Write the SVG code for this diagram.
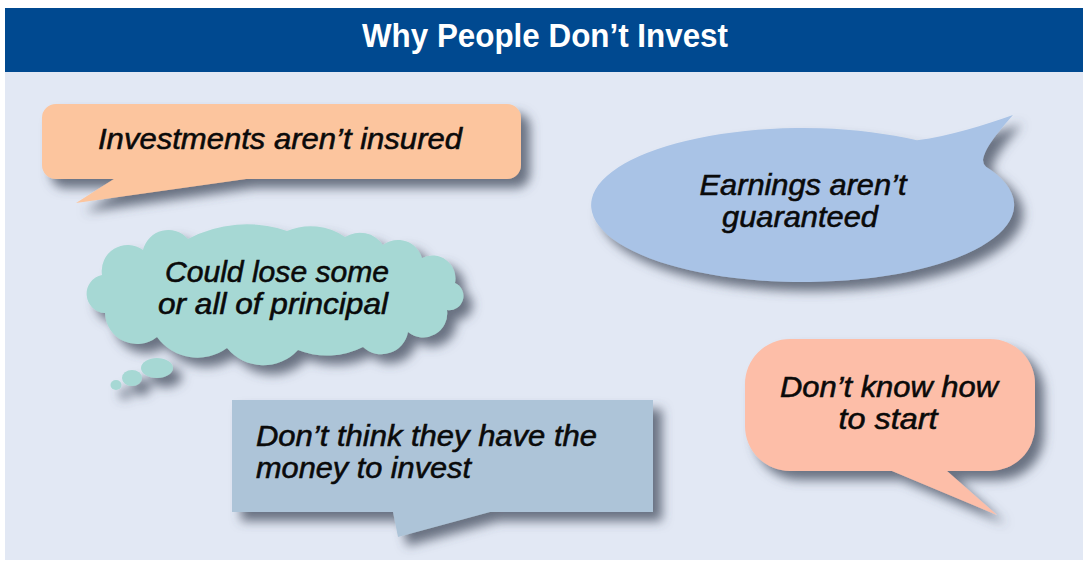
<svg xmlns="http://www.w3.org/2000/svg" width="1083" height="561" viewBox="0 0 1083 561">
<style>
.t{font-family:"Liberation Sans",Arial,sans-serif;font-style:italic;font-size:29px;fill:#0a0a0a;stroke:#0a0a0a;stroke-width:0.55px;text-anchor:middle}
.l{text-anchor:start}
.s{filter:url(#shadow)}
</style>
<defs>
<filter id="shadow" x="-20%" y="-20%" width="150%" height="160%">
<feDropShadow dx="9" dy="9" stdDeviation="5.500" flood-color="#3f4a5c" flood-opacity="0.75"/>
</filter>
</defs>
<rect width="1083" height="561" fill="#ffffff"/>
<rect x="5" y="72" width="1078" height="488" fill="#e2e8f4"/>
<g id="header">
<rect x="5" y="8" width="1078" height="64" fill="#004990"/>
<text x="545" y="47" font-family="'Liberation Sans',Arial,sans-serif" font-weight="700" font-size="33" fill="#ffffff" text-anchor="middle" textLength="366" lengthAdjust="spacingAndGlyphs">Why People Don’t Invest</text>
</g>
<g id="node-insured">
<path class="s" d="M56,104H507a14,14 0 0 1 14,14V165a14,14 0 0 1 -14,14H246L76,203L114,179H56a14,14 0 0 1 -14,-14V118a14,14 0 0 1 14,-14Z" fill="#fcc59e"/>
<text class="t" x="280" y="149" textLength="364" lengthAdjust="spacingAndGlyphs">Investments aren’t insured</text>
</g>
<g id="node-guaranteed">
<path class="s" d="M917,140.300C950,136 985,125 1013,115C1000,130 985,147 983,160Q983,164 986,166.700A211.500,77 0 1 1 917,140.300Z" fill="#a9c3e6"/>
<text class="t" x="803" y="195" textLength="207" lengthAdjust="spacingAndGlyphs">Earnings aren’t</text>
<text class="t" x="800" y="227" textLength="156" lengthAdjust="spacingAndGlyphs">guaranteed</text>
</g>
<g id="node-principal">
<g class="s" fill="#a6d8d4">
<path d="M102,275A26,26 0 0 1 143,250A26,26 0 0 1 188,239A125,125 0 0 1 287,231A60,60 0 0 1 345,237A28,28 0 0 1 383,245A25,25 0 0 1 422,258A23,23 0 0 1 455,283A14.200,14.200 0 0 1 447,310A24,24 0 0 1 408,332A27,27 0 0 1 363,347A79,79 0 0 1 298,350A47,47 0 0 1 227,348A50,50 0 0 1 157,337A32,32 0 0 1 105,313A19.200,19.200 0 0 1 102,275Z"/>
<ellipse cx="157" cy="368" rx="16" ry="10"/>
<ellipse cx="132" cy="378" rx="10" ry="8"/>
<ellipse cx="116" cy="385" rx="5.500" ry="5"/>
</g>
<text class="t" x="277" y="282" textLength="224" lengthAdjust="spacingAndGlyphs">Could lose some</text>
<text class="t" x="273" y="314" textLength="230" lengthAdjust="spacingAndGlyphs">or all of principal</text>
</g>
<g id="node-money">
<path class="s" d="M232,400H653V512H490L398,537L393,512H232Z" fill="#adc4d8"/>
<text class="t l" x="256" y="446" textLength="341" lengthAdjust="spacingAndGlyphs">Don’t think they have the</text>
<text class="t l" x="256" y="478" textLength="215" lengthAdjust="spacingAndGlyphs">money to invest</text>
</g>
<g id="node-start">
<path class="s" d="M790,339H990A45,45 0 0 1 1035,384V426A45,45 0 0 1 990,471H947L997,515L892,471H790A45,45 0 0 1 745,426V384A45,45 0 0 1 790,339Z" fill="#fdbea8"/>
<text class="t" x="889" y="397" textLength="218" lengthAdjust="spacingAndGlyphs">Don’t know how</text>
<text class="t" x="888" y="429" textLength="99" lengthAdjust="spacingAndGlyphs">to start</text>
</g>
</svg>
